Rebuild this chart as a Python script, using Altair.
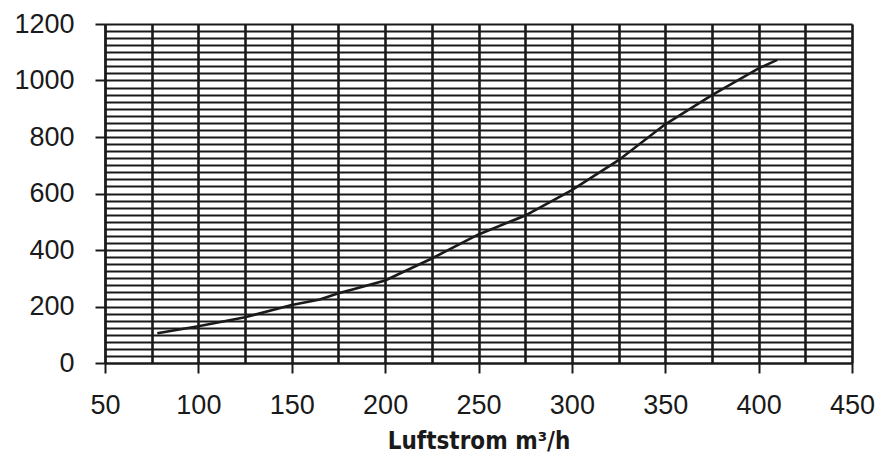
import altair as alt
import pandas as pd

# Curve
airflow = [78, 100, 125, 150, 165, 175, 185, 200, 225, 250, 275, 300, 325, 350, 375, 400, 410]
value = [105, 130, 162, 205, 225, 247, 265, 292, 370, 455, 522, 612, 718, 845, 948, 1043, 1073]

x_grid = list(range(50, 451, 25))
y_grid = list(range(0, 1201, 25))

df = pd.DataFrame({"x": airflow, "y": value})

ink = "#1a1a1a"
label_font = "Liberation Sans"

x_axis = alt.Axis(
    values=x_grid, format="d",
    labelExpr="datum.value % 50 === 0 ? datum.label : ''",
    grid=True, gridColor=ink, gridWidth=2.6, gridOpacity=1,
    tickSize=10, tickWidth=2, tickColor=ink,
    tickOpacity={"condition": {"test": "datum.value % 50 === 0", "value": 1}, "value": 0},
    domainColor=ink, domainWidth=2,
    labelFont=label_font, labelFontSize=27, labelColor=ink, labelPadding=19,
    labelOverlap=False, labelFlush=False,
    title="Luftstrom m³/h",
    titleFont="Liberation Sans Narrow, DejaVu Sans Condensed, Liberation Sans",
    titleFontWeight="bold", titleFontSize=24, titleColor=ink, titlePadding=11,
)

y_axis = alt.Axis(
    values=y_grid, format="d",
    labelExpr="datum.value % 200 === 0 ? datum.label : ''",
    grid=True, gridColor=ink, gridWidth=2.2, gridOpacity=1,
    tickSize=10, tickWidth=2, tickColor=ink,
    tickOpacity={"condition": {"test": "datum.value % 200 === 0", "value": 1}, "value": 0},
    domainColor=ink, domainWidth=2,
    labelFont=label_font, labelFontSize=27, labelColor=ink, labelPadding=21,
    labelOverlap=False, labelFlush=False,
    title=None,
)

chart = alt.Chart(df).mark_line(color=ink, strokeWidth=2.6).encode(
    x=alt.X("x:Q", scale=alt.Scale(domain=[50, 450], nice=False, zero=False), axis=x_axis),
    y=alt.Y("y:Q", scale=alt.Scale(domain=[0, 1200], nice=False), axis=y_axis),
).properties(
    width=747, height=339,
    autosize=alt.AutoSizeParams(type="none"),
    padding={"left": 97, "top": 16, "right": 25, "bottom": 92},
).configure_view(stroke=None).configure(background="white")

chart.save("out.html", embed_options={"renderer": "svg", "actions": False})
